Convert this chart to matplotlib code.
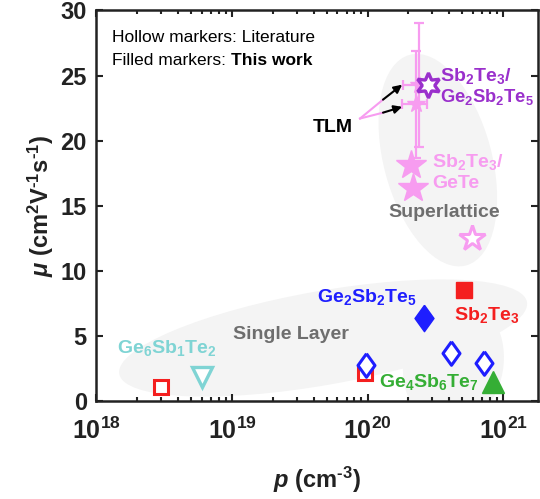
import matplotlib
matplotlib.use("Agg")
import matplotlib.pyplot as plt
import matplotlib.transforms as mtransforms
from matplotlib.patches import Ellipse
from matplotlib.ticker import FixedLocator, LogLocator, NullFormatter

plt.rcParams['font.family'] = ['Liberation Sans', 'DejaVu Sans']
plt.rcParams['mathtext.fontset'] = 'custom'
plt.rcParams['mathtext.rm'] = 'Liberation Sans:bold'
plt.rcParams['mathtext.bf'] = 'Liberation Sans:bold'
plt.rcParams['mathtext.it'] = 'Liberation Sans:italic:bold'
plt.rcParams['mathtext.default'] = 'bf'

# carrier density p (cm^-3) and mobility mu (cm2/Vs)
# literature (hollow markers)
sb2te3_lit_p = [3.0e18, 9.6e19]
sb2te3_lit_mu = [1.1, 2.15]
gst_lit_p = [9.7e19, 4.1e20, 7.2e20]
gst_lit_mu = [2.75, 3.7, 2.95]
ge6_lit_p = [6.0e18]
ge6_lit_mu = [1.87]
sl_gete_lit_p = [5.9e20]
sl_gete_lit_mu = [12.5]
sl_gst_lit_p = [2.8e20]
sl_gst_lit_mu = [24.3]

# this work (filled markers)
sb2te3_p = [5.15e20]
sb2te3_mu = [8.5]
gst_p = [2.6e20]
gst_mu = [6.4]
ge4_p = [8.4e20]
ge4_mu = [1.45]
sl_gete_p = [2.1e20, 2.17e20]
sl_gete_mu = [18.1, 16.35]

# TLM measurements with error bars
tlm_p = [2.4e20, 2.27e20]
tlm_mu = [24.3, 22.8]
tlm_perr = [0.57e20, 0.47e20]
tlm_muerr = [4.75, 4.1]

red = '#f41f1f'
blue = '#1e1eff'
green = '#35ae35'
cyan = '#7fd4d4'
pink = '#f79cf0'
purple = '#9a30cc'
grey_txt = '#6e6e6e'
shade = '#f4f4f4'
ink = '#222222'

diamond = [(0, 1), (0.72, 0), (0, -1), (-0.72, 0), (0, 1)]

fig = plt.figure(figsize=(5.4, 4.99), dpi=100)
ax = fig.add_axes([0.1787, 0.1964, 0.8176, 0.7826])
ax.set_xscale('log')
ax.set_xlim(1e18, 1.81e21)
ax.set_ylim(0, 30)


def shade_ellipse(p, mu, w_in, h_in, angle):
    # ellipse sized in inches, centred on a data point
    tr = fig.dpi_scale_trans + mtransforms.ScaledTranslation(p, mu, ax.transData)
    e = Ellipse((0, 0), w_in, h_in, angle=angle, transform=tr,
                facecolor=shade, edgecolor='none', zorder=0)
    e.set_clip_path(ax.patch)
    ax.add_patch(e)


shade_ellipse(4.7e19, 4.84, 4.14, 0.94, 10)
shade_ellipse(4.3e20, 2.9, 1.3, 1.0, 80)
shade_ellipse(3.3e20, 18.5, 2.18, 1.08, 105)

# hollow markers
ax.plot(sb2te3_lit_p, sb2te3_lit_mu, 's', ms=10, mfc='white', mec=red, mew=2.2, ls='none', zorder=3)
ax.plot(gst_lit_p, gst_lit_mu, ls='none', marker=diamond,
        ms=17, mfc='white', mec=blue, mew=2.2, zorder=4)
ax.plot(ge6_lit_p, ge6_lit_mu, 'v', ms=14, mfc='white', mec=cyan, mew=2.4, ls='none', zorder=3)
ax.plot(sl_gete_lit_p, sl_gete_lit_mu, '*', ms=19, mfc='white', mec=pink, mew=2.2, ls='none', zorder=3)

# TLM error bars
ax.errorbar(tlm_p, tlm_mu, xerr=tlm_perr, yerr=tlm_muerr, fmt='*', ms=13,
            color=pink, mfc=pink, mec=pink, elinewidth=1.6, capsize=3.5, capthick=1.6, zorder=4)
ax.plot(sl_gst_lit_p, sl_gst_lit_mu, ls='none', marker=(6, 1, 0), ms=18,
        mfc='white', mec=purple, mew=2.4, zorder=5)

# filled markers
ax.plot(sb2te3_p, sb2te3_mu, 's', ms=12, color=red, ls='none', zorder=3)
ax.plot(gst_p, gst_mu, ls='none', marker=diamond, ms=19, color=blue, zorder=3)
ax.plot(ge4_p, ge4_mu, '^', ms=16, color=green, ls='none', zorder=3)
ax.plot(sl_gete_p, sl_gete_mu, '*', ms=22, color=pink, ls='none', zorder=3)

# TLM arrows: pink tail, black head
for tip_mu, mid_mu in [(24.3, 23.15), (22.6, 22.15)]:
    ax.plot([8.8e19, 1.3e20], [21.7, mid_mu], color=pink, lw=1.5, zorder=4)
    ax.annotate('', xy=(1.8e20, tip_mu), xytext=(1.3e20, mid_mu),
                arrowprops=dict(arrowstyle='-|>', color='black', lw=1.5,
                                mutation_scale=12, shrinkA=0, shrinkB=0), zorder=4)

fs = 14
lab = dict(fontsize=fs, fontweight='bold', va='center', ha='left')
ax.text(3.96e19, 21.0, 'TLM', color='black', **lab)
ax.text(3.45e20, 24.96, r'Sb$_2$Te$_3$/', color=purple, **lab)
ax.text(3.45e20, 23.35, r'Ge$_2$Sb$_2$Te$_5$', color=purple, fontsize=13.2,
        fontweight='bold', va='center', ha='left')
ax.text(2.99e20, 18.36, r'Sb$_2$Te$_3$/', color=pink, **lab)
ax.text(2.99e20, 16.74, 'GeTe', color=pink, **lab)
ax.text(1.42e20, 14.5, 'Superlattice', color=grey_txt, **lab)
ax.text(4.24e19, 8.0, r'Ge$_2$Sb$_2$Te$_5$', color=blue, **lab)
ax.text(4.35e20, 6.6, r'Sb$_2$Te$_3$', color=red, **lab)
ax.text(1.02e19, 5.07, 'Single Layer', color=grey_txt, **lab)
ax.text(1.42e18, 4.07, r'Ge$_6$Sb$_1$Te$_2$', color=cyan, **lab)
ax.text(1.22e20, 1.46, r'Ge$_4$Sb$_6$Te$_7$', color=green, **lab)

ax.text(0.035, 0.932, 'Hollow markers: Literature', transform=ax.transAxes,
        fontsize=12.5, va='center')
t = ax.text(0.035, 0.871, 'Filled markers: ', transform=ax.transAxes, fontsize=12.5, va='center')
ax.annotate('This work', xycoords=t, xy=(1, 0), va='bottom', fontsize=12.5, fontweight='bold')

# axes styling
ax.xaxis.set_major_locator(FixedLocator([1e18, 1e19, 1e20, 1e21]))
ax.set_xticklabels([r'$\mathbf{10^{18}}$', r'$\mathbf{10^{19}}$', r'$\mathbf{10^{20}}$', r'$\mathbf{10^{21}}$'])
ax.xaxis.set_minor_locator(LogLocator(base=10, subs=range(2, 10), numticks=20))
ax.xaxis.set_minor_formatter(NullFormatter())
ax.set_yticks([0, 5, 10, 15, 20, 25, 30])
for tl in ax.get_yticklabels():
    tl.set_fontweight('bold')
ax.tick_params(which='both', direction='in', top=True, right=True, width=1.5, color=ink)
ax.tick_params(which='major', length=5)
ax.tick_params(which='minor', length=3)
ax.tick_params(axis='y', labelsize=17, pad=7, labelcolor=ink)
ax.tick_params(axis='x', labelsize=18, pad=12, labelcolor=ink)
for s in ax.spines.values():
    s.set_linewidth(1.8)
    s.set_color(ink)

ax.set_xlabel(r'$\mathit{p}$ (cm$^{\text{-}3}$)', fontsize=17, fontweight='bold', color=ink, labelpad=15)
ax.set_ylabel(r'$\mathit{\mu}$ (cm$^2$V$^{\text{-}1}$s$^{\text{-}1}$)', fontsize=17, fontweight='bold',
              color=ink, labelpad=3)

fig.savefig('out.png', dpi=100)
